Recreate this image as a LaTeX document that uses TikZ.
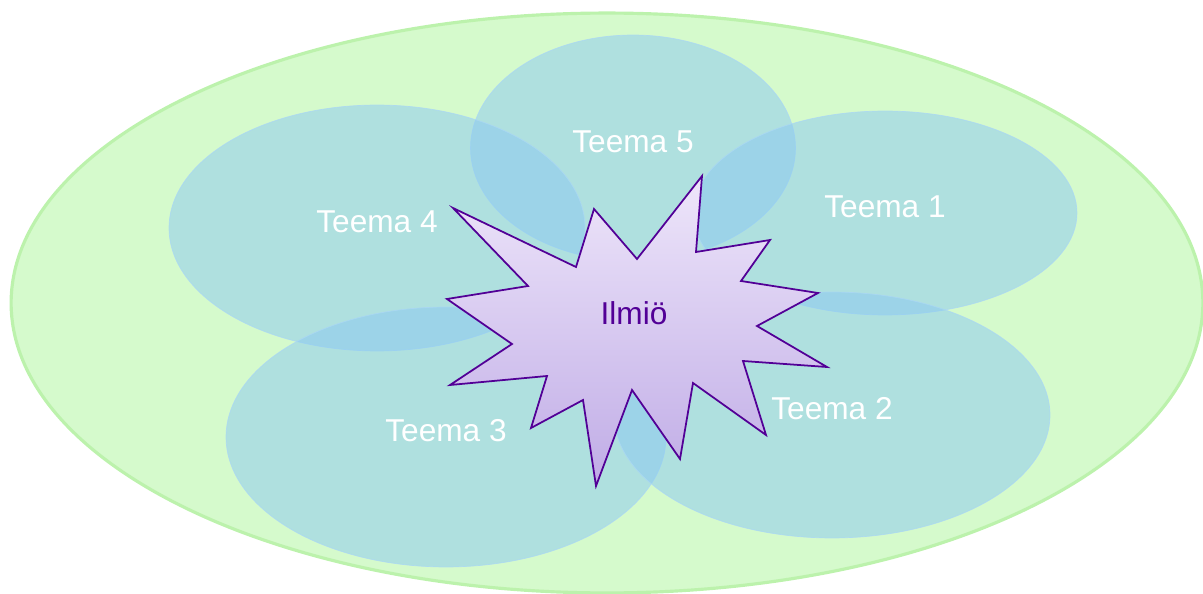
\documentclass[tikz,border=0pt]{standalone}
\usepackage{fontspec}
\setmainfont{Liberation Sans}
\usepackage{tikz}
\usetikzlibrary{shapes.geometric}
\definecolor{fieldgreen}{RGB}{213,250,204}
\definecolor{fieldedge}{RGB}{188,242,172}
\definecolor{themeblue}{RGB}{138,200,242}
\definecolor{themeedge}{RGB}{170,215,245}
\definecolor{burstedge}{RGB}{82,0,150}
\definecolor{bursttop}{RGB}{238,230,250}
\definecolor{burstbottom}{RGB}{192,172,230}
\tikzstyle{field}=[ellipse,draw=fieldedge,fill=fieldgreen,line width=1.8pt,inner sep=0pt]
\tikzstyle{theme}=[ellipse,draw=themeedge,draw opacity=0.8,fill=themeblue,fill opacity=0.5,text opacity=1,text=white,inner sep=0pt,font=\fontsize{18}{20}\selectfont]
\tikzstyle{burst} = [draw=burstedge,line width=1pt,line join=miter,top color=bursttop,bottom color=burstbottom]

\begin{document}
\begin{tikzpicture}[x=0.02cm,y=-0.02cm]
    \useasboundingbox (0,0) rectangle (1203,594);
    % The big field behind everything
    \node[field,minimum width=23.84cm,minimum height=11.6cm] (field) at (607,303) {};

    % Then the five themes
    \foreach \pos/\name/\w/\h/\txt in {{(633,148)/T5/6.5/4.52/Teema 5}, {(885,213)/T1/7.68/4.08/Teema 1},
        {(377,228)/T4/8.32/4.92/Teema 4}, {(446,437)/T3/8.8/5.2/Teema 3}, {(832,415)/T2/8.72/4.92/Teema 2}}
        \node[theme,minimum width=\w cm,minimum height=\h cm] (\name) at \pos {\raisebox{7pt}{\txt}};

    % The phenomenon in the middle
    \draw[burst] (453,208) -- (576,267) -- (594,209) -- (637,259) -- (702,176) -- (696,252)
        -- (770,240) -- (741,281) -- (818,293) -- (757,326) -- (827,367) -- (743,361)
        -- (766,435) -- (693,383) -- (680,459) -- (632,390) -- (596,486) -- (583,400)
        -- (531,428) -- (547,376) -- (450,385) -- (512,344) -- (447,299) -- (528,286) -- cycle;
    \node[text=burstedge,font=\fontsize{18}{20}\selectfont] (ilmio) at (634,313) {Ilmiö};
\end{tikzpicture}
\end{document}
